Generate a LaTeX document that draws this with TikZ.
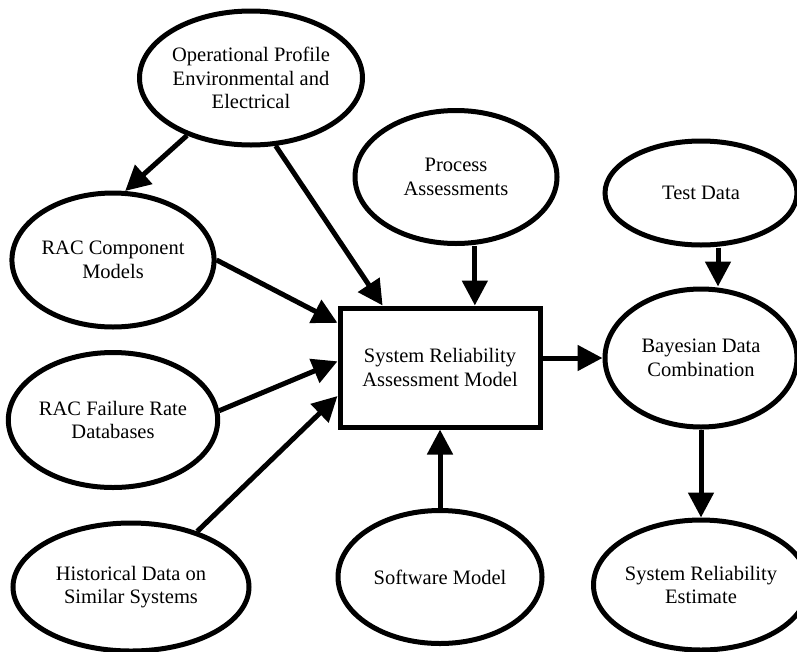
\documentclass[tikz,border=0pt]{standalone}
\usepackage{fontspec}
\setmainfont{Liberation Serif}
\usetikzlibrary{arrows.meta,shapes.geometric,calc}
\tikzset{
  relell/.style={draw,ellipse,line width=5pt,inner sep=0pt,align=center,font=\fontsize{20.5}{23.5}\selectfont},
  relbox/.style={draw,rectangle,line width=5pt,inner sep=0pt,align=center,minimum width=200pt,minimum height=119pt,font=\fontsize{20.5}{23.5}\selectfont},
  relflow/.style={-{Triangle[length=25pt,width=25pt]},line width=5pt},
}
\begin{document}
\begin{tikzpicture}[x=1pt,y=-1pt]
\useasboundingbox (0,0) rectangle (797,651);
\node[relbox] (sra) at (440,367.5) {System Reliability\\Assessment Model};
\node[relell,minimum width=212pt,minimum height=134pt] (op) at (251,78) {Operational Profile\\Environmental and\\Electrical};
\node[relell,minimum width=202pt,minimum height=133pt] (proc) at (456,177) {Process\\Assessments};
\node[relell,minimum width=192pt,minimum height=104pt] (test) at (701,193) {Test Data};
\node[relell,minimum width=200pt,minimum height=134pt] (comp) at (113,260) {RAC Component\\Models};
\node[relell,minimum width=200pt,minimum height=135pt] (fail) at (113,420) {RAC Failure Rate\\Databases};
\node[relell,minimum width=236pt,minimum height=128pt] (hist) at (131,587) {Historical Data on\\Similar Systems};
\node[relell,minimum width=204pt,minimum height=133pt] (soft) at (440,577) {Software Model};
\node[relell,minimum width=192pt,minimum height=138pt] (bayes) at (701,358) {Bayesian Data\\Combination};
\node[relell,minimum width=192pt,minimum height=130pt] (est) at (701,585) {System Reliability\\Estimate};
% entry points on the model box
\coordinate (opin) at ($(sra.north west)!0.22!(sra.north east)$);
\coordinate (procin) at ($(sra.north west)!0.67!(sra.north east)$);
\coordinate (compin) at ($(sra.north west)!0.14!(sra.south west)$);
\coordinate (failin) at ($(sra.north west)!0.45!(sra.south west)$);
\coordinate (histin) at ($(sra.north west)!0.73!(sra.south west)$);
\draw[relflow] (op) -- (comp.80);
\draw[relflow] (op.-70) -- (opin);
\draw[relflow] (proc.south -| procin) -- (procin);
\draw[relflow] (comp.east) -- (compin);
\draw[relflow] (fail.5) -- (failin);
\draw[relflow] (hist.40) -- (histin);
\draw[relflow] (soft) -- (sra);
\draw[relflow] (sra.east |- bayes) -- (bayes);
\draw[relflow] ([xshift=17pt]test.south) -- ([xshift=17pt]bayes.north);
\draw[relflow] (bayes) -- (est);
\end{tikzpicture}
\end{document}
